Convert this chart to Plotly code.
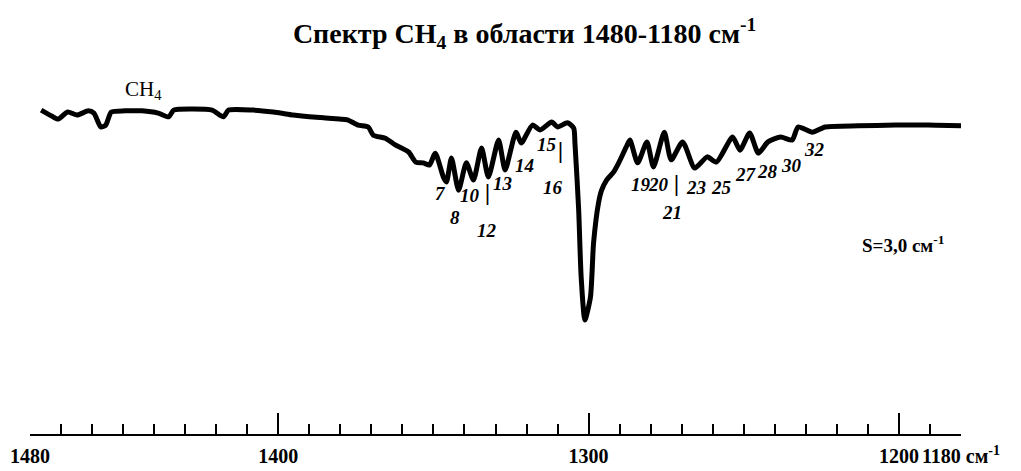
import plotly.graph_objects as go

# ---- data ----
wavenumber = [1476.4, 1473.0, 1470.9, 1467.9, 1464.8, 1461.2, 1459.4, 1457.2, 1455.6, 1453.8,
              1449.4, 1443.9, 1438.7, 1435.3, 1433.7, 1427.5, 1421.3, 1417.7, 1416.0, 1408.1,
              1401.6, 1395.2, 1390.0, 1384.8, 1380.3, 1377.7, 1374.3, 1371.0, 1369.4, 1365.5,
              1362.3, 1358.0, 1355.7, 1353.3, 1351.3, 1349.4, 1346.8, 1345.8, 1344.2, 1341.9,
              1339.4, 1337.1, 1334.5, 1332.3, 1329.0, 1326.9, 1323.4, 1321.7, 1318.1, 1315.6,
              1311.9, 1310.0, 1306.8, 1304.8, 1304.4, 1303.2, 1302.4, 1301.2, 1299.4, 1298.4,
              1296.8, 1295.8, 1294.2, 1291.9, 1290.3, 1287.9, 1286.7, 1284.2, 1281.2, 1279.1,
              1275.6, 1273.4, 1269.7, 1265.8, 1261.8, 1258.8, 1253.6, 1251.2, 1248.1, 1245.3,
              1242.2, 1238.1, 1234.4, 1232.5, 1227.9, 1223.8, 1213.1, 1201.1, 1190.6, 1180.0]
transmission = [86.6, 85.0, 84.2, 86.1, 85.3, 86.4, 85.8, 82.1, 82.6, 86.1,
                86.4, 86.4, 85.8, 84.8, 86.6, 86.9, 86.6, 84.8, 86.6, 86.6,
                86.1, 85.3, 84.8, 84.5, 84.2, 84.0, 82.6, 82.1, 79.9, 79.1,
                77.3, 75.4, 72.7, 72.5, 71.9, 75.1, 68.7, 67.4, 73.8, 65.2,
                72.5, 67.9, 76.5, 68.7, 78.6, 70.6, 80.7, 77.8, 82.6, 81.3,
                83.4, 82.1, 83.2, 81.8, 77.8, 59.9, 42.0, 30.5, 36.6, 51.1,
                61.8, 65.2, 67.9, 70.1, 72.5, 76.7, 78.6, 72.5, 78.1, 71.4,
                80.7, 73.3, 78.1, 71.1, 74.1, 72.7, 79.4, 75.9, 80.5, 75.1,
                78.1, 79.4, 78.6, 82.1, 80.7, 82.1, 82.4, 82.6, 82.6, 82.4]

band_labels = ["7", "8", "10", "|", "12", "13", "14", "15", "|", "16",
               "19", "20", "|", "21", "23", "25", "27", "28", "30", "32"]
band_x = [1347.7, 1342.9, 1338.1, 1332.6, 1332.9, 1327.6, 1320.7, 1313.3, 1309.2, 1311.5,
          1283.0, 1277.5, 1271.8, 1273.1, 1265.5, 1257.3, 1249.4, 1242.5, 1234.7, 1227.1]
band_y = [64.4, 58.0, 63.9, 64.7, 54.5, 67.1, 71.9, 77.3, 75.9, 66.0,
          66.8, 66.6, 67.1, 59.1, 65.8, 66.0, 69.3, 70.1, 71.9, 76.2]

tick_vals = [1480, 1400, 1300, 1200, 1180]
tick_text = ["1480", "1400", "1300", "1200", "1180 см<sup>-1</sup>"]

title_text = "Спектр CH<sub>4</sub> в области 1480-1180 см<sup>-1</sup>"
molecule_text = "CH<sub>4</sub>"
molecule_pos = (1443.5, 92.0)
resolution_text = "S=3,0 см<sup>-1</sup>"
resolution_pos = (1198.8, 50.8)

# ---- figure ----
SERIF = "Liberation Serif, Times New Roman, serif"

fig = go.Figure()
fig.add_trace(go.Scatter(
    x=wavenumber, y=transmission, mode="lines",
    line=dict(color="black", width=5, shape="spline", smoothing=0.6),
    hoverinfo="skip", showlegend=False,
))

bar_sizes = {"|": 24}
for t, x, y in zip(band_labels, band_x, band_y):
    fig.add_annotation(
        x=x, y=y, text=t, showarrow=False,
        font=dict(family=SERIF, size=bar_sizes.get(t, 19), color="black",
                  weight="bold", style="italic"),
        xanchor="center", yanchor="middle",
    )

fig.add_annotation(x=molecule_pos[0], y=molecule_pos[1], text=molecule_text,
                   showarrow=False, font=dict(family=SERIF, size=21, color="black"))
fig.add_annotation(x=resolution_pos[0], y=resolution_pos[1], text=resolution_text,
                   showarrow=False, font=dict(family=SERIF, size=19, color="black",
                                              weight="bold"))

# the page body has an 8px margin, so the figure is sized to fill the window from there
fig.update_layout(
    width=1013, height=463,
    margin=dict(l=22, r=60, t=52, b=37),
    paper_bgcolor="white", plot_bgcolor="white",
    title=dict(text=title_text, x=0.510, xanchor="center", y=0.946, yanchor="middle",
               font=dict(family=SERIF, size=28, color="black", weight="bold")),
    xaxis=dict(
        range=[1480, 1180], showgrid=False, zeroline=False, automargin=False,
        showline=True, linecolor="black", linewidth=2,
        tickmode="array", tickvals=tick_vals, ticktext=tick_text,
        ticks="inside", ticklen=21, tickwidth=2, tickcolor="black",
        ticklabelstandoff=3,
        tickfont=dict(family=SERIF, size=20, color="black", weight="bold"),
        minor=dict(dtick=10, tick0=1180, ticks="inside", ticklen=10,
                   tickwidth=2, tickcolor="black", showgrid=False),
    ),
    yaxis=dict(visible=False, range=[0, 100], automargin=False),
)

fig.write_html("out.html")
